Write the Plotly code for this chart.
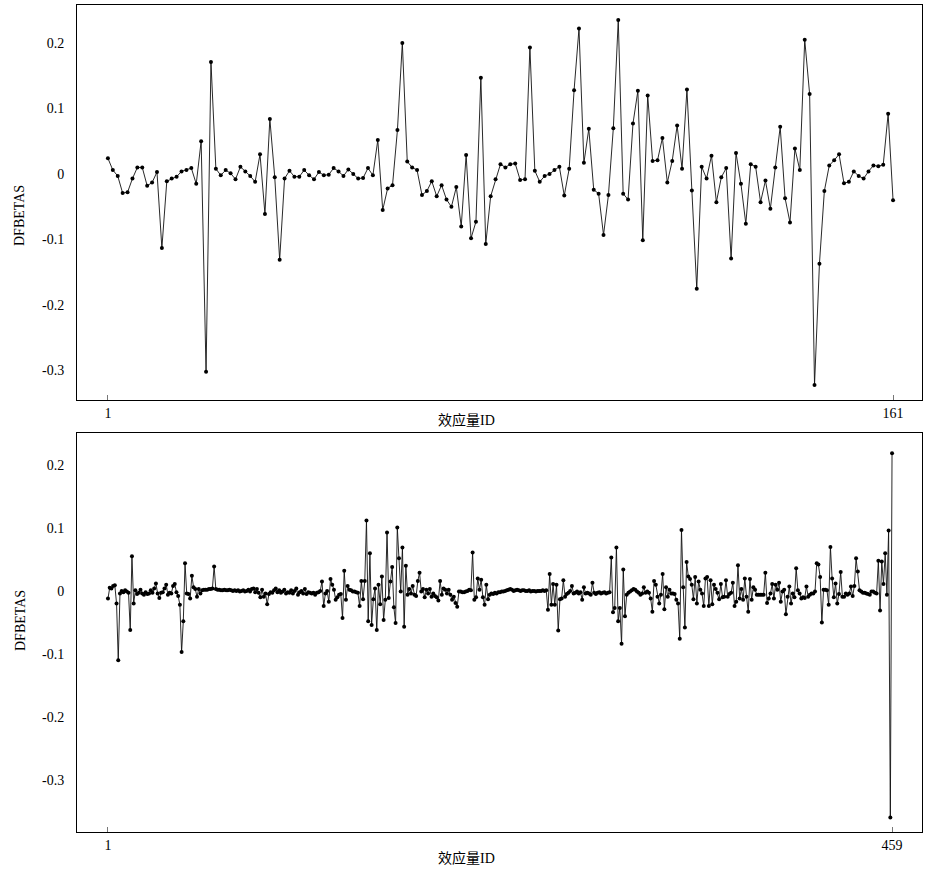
import plotly.graph_objects as go

# ---------------- data ----------------
dfbetas_top = [
    0.024, 0.006, -0.003, -0.029, -0.028, -0.007, 0.010, 0.010, -0.018, -0.013,
    0.003, -0.113, -0.011, -0.007, -0.004, 0.004, 0.006, 0.009, -0.015, 0.050,
    -0.302, 0.171, 0.008, -0.002, 0.006, 0.001, -0.008, 0.011, 0.004, -0.003,
    -0.012, 0.030, -0.061, 0.084, -0.005, -0.131, -0.007, 0.005, -0.004, -0.004,
    0.006, -0.002, -0.008, 0.003, -0.002, -0.001, 0.009, 0.004, -0.003, 0.007,
    0.000, -0.007, -0.006, 0.009, -0.002, 0.052, -0.055, -0.022, -0.017, 0.067,
    0.200, 0.019, 0.010, 0.006, -0.032, -0.026, -0.011, -0.034, -0.017, -0.039,
    -0.050, -0.020, -0.080, 0.029, -0.098, -0.073, 0.147, -0.107, -0.034, -0.008,
    0.015, 0.010, 0.015, 0.016, -0.009, -0.008, 0.193, 0.005, -0.012, -0.003,
    0.000, 0.006, 0.011, -0.033, 0.008, 0.128, 0.222, 0.017, 0.069, -0.024,
    -0.030, -0.093, -0.032, 0.070, 0.235, -0.030, -0.039, 0.077, 0.127, -0.101,
    0.120, 0.020, 0.021, 0.055, -0.013, 0.020, 0.074, 0.008, 0.129, -0.025,
    -0.175, 0.011, -0.007, 0.028, -0.043, -0.005, 0.009, -0.129, 0.032, -0.015,
    -0.076, 0.015, 0.011, -0.043, -0.010, -0.053, 0.010, 0.072, -0.037, -0.074,
    0.039, 0.006, 0.205, 0.122, -0.322, -0.137, -0.026, 0.013, 0.021, 0.030,
    -0.014, -0.012, 0.004, -0.003, -0.007, 0.004, 0.013, 0.012, 0.014, 0.092,
    -0.040,
]

dfbetas_bottom = [
    -0.012, 0.005, 0.004, 0.008, 0.009, -0.020, -0.110, -0.004, 0.000, -0.002,
    0.001, -0.001, -0.003, -0.062, 0.055, -0.020, 0.001, -0.005, -0.003, 0.002,
    -0.004, -0.006, -0.002, -0.005, -0.004, 0.001, -0.003, 0.004, 0.012, -0.004,
    -0.011, -0.003, -0.002, 0.004, 0.010, -0.006, -0.003, -0.004, 0.008, 0.011,
    -0.002, -0.008, -0.022, -0.097, -0.048, 0.044, -0.004, -0.005, -0.012, 0.024,
    0.006, 0.003, -0.009, 0.003, -0.004, 0.001, 0.002, 0.002, 0.002, 0.003,
    0.003, 0.004, 0.039, 0.003, 0.002, 0.002, 0.001, 0.001, 0.002, 0.001,
    0.001, 0.002, 0.001, 0.000, 0.001, 0.000, 0.001, -0.001, 0.000, 0.001,
    -0.001, 0.000, 0.002, -0.001, 0.003, 0.004, -0.002, 0.003, -0.003, -0.010,
    0.002, -0.009, -0.004, -0.021, -0.005, -0.002, -0.003, 0.001, 0.004, -0.002,
    0.001, -0.003, -0.001, 0.002, -0.004, -0.002, -0.003, 0.001, -0.004, 0.000,
    0.004, -0.006, -0.002, 0.000, -0.004, 0.003, -0.005, -0.002, -0.003, -0.004,
    -0.003, -0.006, -0.003, -0.002, 0.000, 0.015, -0.024, -0.004, 0.000, -0.017,
    0.019, 0.010, 0.002, -0.014, -0.010, -0.006, -0.005, -0.043, 0.032, -0.014,
    0.008, 0.002, 0.001, -0.001, -0.001, -0.002, -0.003, -0.024, 0.016, -0.013,
    0.016, 0.112, -0.048, 0.060, -0.054, -0.013, 0.004, -0.062, 0.010, -0.021,
    0.023, -0.046, -0.014, 0.093, -0.011, 0.015, 0.038, -0.026, -0.051, 0.101,
    0.052, -0.001, 0.069, -0.057, 0.040, -0.006, 0.003, -0.004, 0.008, -0.006,
    -0.008, 0.016, 0.029, -0.001, 0.003, -0.010, 0.002, -0.004, 0.003, -0.009,
    -0.004, -0.008, -0.010, -0.015, 0.016, -0.006, 0.004, 0.002, -0.004, 0.002,
    -0.006, -0.014, -0.009, -0.019, -0.025, -0.001, -0.001, -0.002, -0.002, -0.001,
    0.000, 0.002, 0.001, 0.061, -0.014, -0.010, 0.020, 0.002, 0.018, -0.010,
    -0.022, 0.010, -0.013, -0.006, -0.004, -0.005, -0.003, -0.004, -0.002, -0.002,
    -0.001, -0.001, 0.000, 0.001, 0.002, 0.003, 0.002, 0.000, 0.001, 0.002,
    0.001, 0.000, 0.001, 0.001, 0.000, 0.000, 0.001, -0.001, 0.000, 0.000,
    -0.001, 0.000, 0.000, 0.000, 0.001, 0.000, 0.001, -0.030, 0.027, -0.022,
    0.011, -0.022, 0.010, -0.063, -0.013, -0.012, 0.017, -0.009, -0.005, -0.003,
    0.000, 0.008, -0.004, -0.003, -0.001, -0.004, -0.002, -0.014, 0.006, -0.004,
    -0.003, -0.004, -0.006, 0.013, -0.003, -0.005, -0.003, -0.002, -0.004, -0.003,
    -0.002, -0.004, -0.003, -0.002, 0.053, -0.034, -0.027, 0.069, -0.048, -0.027,
    -0.084, 0.034, -0.040, -0.006, -0.003, -0.001, 0.001, 0.003, 0.002, -0.001,
    -0.003, -0.006, -0.004, 0.006, -0.003, -0.001, -0.003, -0.012, -0.033, 0.016,
    0.010, -0.009, -0.020, -0.006, 0.027, -0.029, 0.006, -0.009, 0.002, -0.004,
    -0.004, -0.005, -0.014, -0.020, -0.076, 0.097, 0.006, -0.058, 0.046, 0.023,
    0.019, 0.010, -0.013, 0.022, -0.020, 0.015, 0.002, -0.004, -0.024, 0.020,
    0.022, -0.024, 0.017, -0.021, 0.010, 0.003, -0.003, -0.013, 0.011, -0.010,
    -0.009, 0.017, -0.009, -0.005, -0.003, 0.013, -0.024, -0.017, 0.041, -0.012,
    0.003, -0.014, 0.020, -0.009, -0.033, 0.019, -0.014, 0.006, 0.002, -0.006,
    -0.006, -0.006, -0.006, -0.006, 0.029, -0.019, -0.012, -0.004, 0.011, -0.012,
    0.010, 0.002, 0.013, -0.017, -0.001, 0.002, -0.037, -0.009, 0.007, -0.020,
    -0.004, -0.010, 0.036, 0.001, -0.004, -0.012, -0.010, -0.011, 0.007, -0.009,
    -0.006, -0.004, -0.004, -0.001, 0.044, 0.042, 0.022, -0.050, 0.002, 0.002,
    0.001, -0.022, 0.070, 0.020, -0.010, 0.012, -0.020, -0.005, 0.030, -0.009,
    -0.009, -0.004, -0.006, -0.004, 0.007, -0.008, 0.008, 0.052, 0.031, 0.001,
    -0.001, -0.003, -0.003, -0.004, -0.005, -0.006, -0.001, -0.001, -0.003, -0.004,
    0.048, -0.031, 0.047, 0.011, 0.060, -0.006, 0.096, -0.360, 0.219,
]

ids_top = list(range(1, len(dfbetas_top) + 1))
ids_bottom = list(range(1, len(dfbetas_bottom) + 1))

x_ticks_top = [1, 161]
x_ticks_bottom = [1, 459]
y_tick_vals = [-0.3, -0.2, -0.1, 0, 0.1, 0.2]
y_tick_text = ["-0.3", "-0.2", "-0.1", "0", "0.1", "0.2"]
x_title = "效应量ID"
y_title = "DFBETAS"

# ---------------- figure ----------------
FONT = "Liberation Serif, Times New Roman, Noto Sans CJK SC, serif"
W, H = 940, 878
ML, MR, MT, MB = 77, 18, 5, 46
PW, PH = W - ML - MR, H - MT - MB

fig = go.Figure()
line_style = dict(color="#111111", width=0.9)
marker_style = dict(color="black", size=4, symbol="circle")

fig.add_trace(go.Scatter(x=ids_top, y=dfbetas_top, mode="lines+markers",
                         line=line_style, marker=marker_style,
                         xaxis="x", yaxis="y", showlegend=False))
fig.add_trace(go.Scatter(x=ids_bottom, y=dfbetas_bottom, mode="lines+markers",
                         line=line_style, marker=marker_style,
                         xaxis="x2", yaxis="y2", showlegend=False))

def py(pix):
    return (H - MB - pix) / PH

def px(pix):
    return (pix - ML) / PW

common_x = dict(showline=True, mirror=True, linecolor="black", linewidth=1,
                showgrid=False, zeroline=False, ticks="inside", ticklen=5,
                tickcolor="#777777", tickwidth=1, ticklabelstandoff=0,
                automargin=False,
                tickfont=dict(family=FONT, size=14, color="black"))
common_y = dict(showline=True, mirror=True, linecolor="black", linewidth=1,
                showgrid=False, zeroline=False, ticks="",
                tickvals=y_tick_vals, ticktext=y_tick_text,
                ticklabelstandoff=9, automargin=False,
                tickfont=dict(family=FONT, size=14, color="black"))

fig.update_layout(
    width=W, height=H,
    margin=dict(l=ML, r=MR, t=MT, b=MB),
    paper_bgcolor="white", plot_bgcolor="white",
    font=dict(family=FONT, size=14, color="black"),
    xaxis=dict(domain=[0, 1], range=[-5.3, 166.9], tickvals=x_ticks_top,
               anchor="y", **common_x),
    yaxis=dict(domain=[py(400), py(5)], range=[-0.345, 0.258], anchor="x",
               **common_y),
    xaxis2=dict(domain=[0, 1], range=[-17.1, 476.5], tickvals=x_ticks_bottom,
                anchor="y2", **common_x),
    yaxis2=dict(domain=[py(832), py(433)], range=[-0.383, 0.251], anchor="x2",
                **common_y),
)

annos = [
    dict(text=x_title, x=px(466), y=py(420), xref="paper", yref="paper",
         showarrow=False, xanchor="center", yanchor="middle",
         font=dict(family=FONT, size=14, color="black")),
    dict(text=x_title, x=px(466), y=py(858), xref="paper", yref="paper",
         showarrow=False, xanchor="center", yanchor="middle",
         font=dict(family=FONT, size=14, color="black")),
    dict(text=y_title, x=px(20), y=py(215), xref="paper", yref="paper",
         showarrow=False, xanchor="center", yanchor="middle", textangle=-90,
         font=dict(family=FONT, size=14, color="black")),
    dict(text=y_title, x=px(20), y=py(620), xref="paper", yref="paper",
         showarrow=False, xanchor="center", yanchor="middle", textangle=-90,
         font=dict(family=FONT, size=14, color="black")),
]
fig.update_layout(annotations=annos)

fig.write_html("out.html",
               config={"displayModeBar": False},
               post_script="document.body.style.margin='0px';")
